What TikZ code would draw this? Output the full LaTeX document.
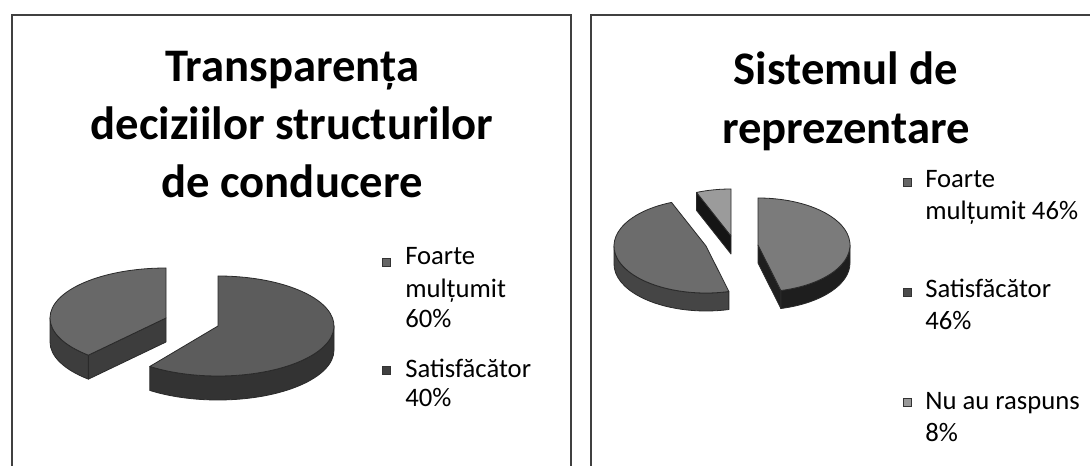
\documentclass[tikz,border=0pt]{standalone}
\usepackage{fontspec}
\newfontfamily\carlito{Carlito}
\newcommand\ttlfont{\carlito\bfseries\fontsize{35}{40}\selectfont}
\newcommand\lgfont{\carlito\fontsize{20}{24}\selectfont}
\def\pa{116}\def\pb{50}\def\pd{24}
% #1 cx, #2 cy, #3 t1, #4 t2, #5 w1, #6 w2, #7 top style, #8 wall style
\newcommand\pslice[8]{%
\begin{scope}[shift={(#1,#2)},yscale=-1]
 \pgfmathparse{cos(#3)>0.05}%
 \ifdim\pgfmathresult pt>0.5pt
  \filldraw[#8] (0,0) -- ({\pa*cos(#3)},{\pb*sin(#3)}) -- ++(0,-\pd) -- (0,-\pd) -- cycle;
 \fi
 \pgfmathparse{cos(#4)<-0.05}%
 \ifdim\pgfmathresult pt>0.5pt
  \filldraw[#8] (0,0) -- ({\pa*cos(#4)},{\pb*sin(#4)}) -- ++(0,-\pd) -- (0,-\pd) -- cycle;
 \fi
 \pgfmathparse{#6-#5>0.5}%
 \ifdim\pgfmathresult pt>0.5pt
  \filldraw[#8] ({\pa*cos(#5)},{\pb*sin(#5)}) arc[start angle=#5,end angle=#6,x radius=\pa,y radius=\pb]
     -- ++(0,-\pd) arc[start angle=#6,end angle=#5,x radius=\pa,y radius=\pb] -- cycle;
 \fi
 \filldraw[#7] (0,0) -- ({\pa*cos(#3)},{\pb*sin(#3)}) arc[start angle=#3,end angle=#4,x radius=\pa,y radius=\pb] -- cycle;
\end{scope}}
\definecolor{topA}{HTML}{5C5C5C}
\definecolor{wallA}{HTML}{333333}
\definecolor{topB}{HTML}{686868}
\definecolor{wallB}{HTML}{3D3D3D}
\definecolor{topC}{HTML}{7B7B7B}
\definecolor{wallC}{HTML}{1E1E1E}
\definecolor{topD}{HTML}{6C6C6C}
\definecolor{wallD}{HTML}{454545}
\definecolor{topE}{HTML}{9B9B9B}
\definecolor{wallE}{HTML}{151515}
\definecolor{edge}{HTML}{2A2A2A}
\tikzset{
 panel/.style={draw=black!75, line width=1.5pt},
 ttl/.style={font=\ttlfont, anchor=base, inner sep=0pt},
 leg/.style={font=\lgfont, anchor=base west, inner sep=0pt},
 mk/.style={draw=black!80, line width=0.4pt, minimum size=6pt, inner sep=0pt},
 face/.style={fill=#1, draw=edge, line width=0.6pt, line join=round},
}
\begin{document}
\begin{tikzpicture}[x=0.75pt,y=-0.75pt]
\useasboundingbox (0,0) rectangle (1090,466);
\fill[white] (0,0) rectangle (1090,466);
% panels
\coordinate (pLb) at (12,470);
\coordinate (pLt) at (12,15);
\coordinate (pLr) at (571,15);
\coordinate (pLrb) at (571,470);
\draw[panel] (pLb) -- (pLt) -- (pLr) -- (pLrb);
\coordinate (pRb) at (591,470);
\coordinate (pRt) at (591,15);
\coordinate (pRr) at (1095,15);
\draw[panel] (pRb) -- (pRt) -- (pRr);
% left titles
\node[ttl] (tA) at (292,82) {Transparența};
\node[ttl] (tB) at (292,140) {deciziilor structurilor};
\node[ttl] (tC) at (292,198) {de conducere};
% right titles
\node[ttl] (tD) at (846,85) {Sistemul de};
\node[ttl] (tE) at (846,144) {reprezentare};
% left pie
\pslice{166}{318}{90}{228}{180}{228}{face=topB}{face=wallB}
\pslice{218}{326}{-126}{90}{-126}{0}{face=topA}{face=wallA}
% left legend
\node[mk, fill=black!60] (mA) at (386,262) {};
\node[leg] (lA1) at (405,265) {Foarte};
\node[leg] (lA2) at (405,298) {mulțumit};
\node[leg] (lA3) at (405,328) {60\%};
\node[mk, fill=black!75] (mB) at (386,370) {};
\node[leg] (lB1) at (405,378) {Satisfăcător};
\node[leg] (lB2) at (405,407) {40\%};
% right pie
\def\pa{92}\def\pb{47}\def\pd{18}
\pslice{731}{236}{90}{112}{0}{0}{face=topE}{face=wallE}
\pslice{706}{246}{112}{284.4}{180}{284.4}{face=topD}{face=wallD}
\pslice{758}{245}{-75.6}{90}{-75.6}{0}{face=topC}{face=wallC}
% right legend
\node[mk, fill=black!60] (mC) at (907,182) {};
\node[leg] (lC1) at (925,188) {Foarte};
\node[leg] (lC2) at (925,220) {mulțumit 46\%};
\node[mk, fill=black!70] (mD) at (907,292) {};
\node[leg] (lD1) at (925,298) {Satisfăcător};
\node[leg] (lD2) at (925,330) {46\%};
\node[mk, fill=black!40] (mE) at (907,402) {};
\node[leg] (lE1) at (925,410) {Nu au raspuns};
\node[leg] (lE2) at (925,442) {8\%};
\end{tikzpicture}
\end{document}
